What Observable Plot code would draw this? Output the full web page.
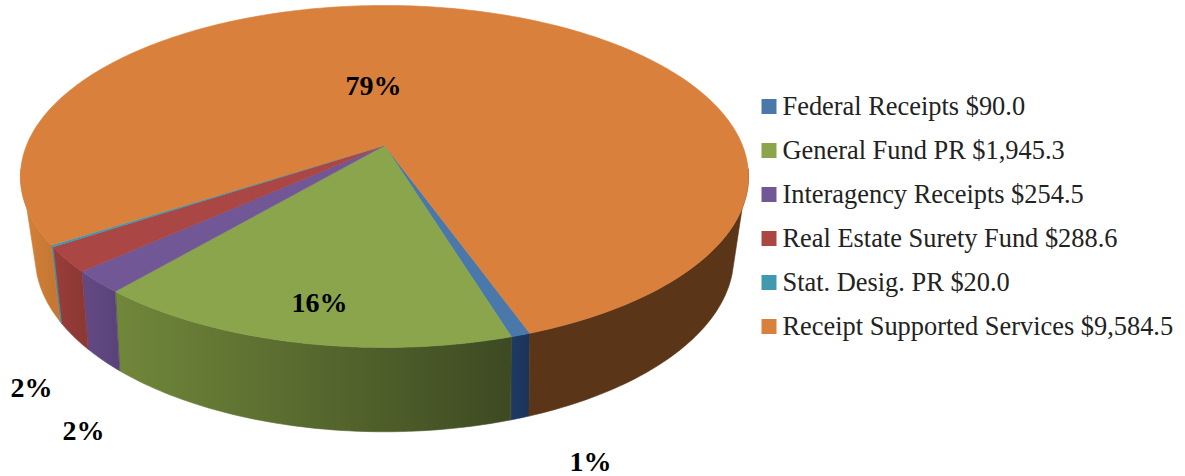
<!DOCTYPE html>
<html>
<head>
<meta charset="utf-8">
<script src="https://cdn.jsdelivr.net/npm/d3@7"></script>
<script src="https://cdn.jsdelivr.net/npm/@observablehq/plot@0.6"></script>
<style>
html,body{margin:0;padding:0;background:#fff}
svg{display:block}
</style>
</head>
<body>
<div id="chart"></div>
<script>
// Data
const categories = ["Federal Receipts","General Fund PR","Interagency Receipts","Real Estate Surety Fund","Stat. Desig. PR","Receipt Supported Services"];
const amounts = [90.0,1945.3,254.5,288.6,20.0,9584.5];
const amountLabels = ["$90.0","$1,945.3","$254.5","$288.6","$20.0","$9,584.5"];
const percentLabels = ["1%","16%","2%","2%","79%"];

// Styles
const topColors = ["#4a78ab","#8aa54b","#725796","#aa4644","#4099af","#d9803c"];
const wallColors = [
  ["#1e3a66","#1c3358"],
  ["#71873a","#3d4a22"],
  ["#644a85","#5a437a"],
  ["#9a3d3a","#8c3835"],
  ["#3d93a6","#3a8a9c"],
  ["#d6813b","#c67832"]
];
const brownWall = "#5a3517";

// Layout
const W = 1185, H = 476;
const cx = 384;
const top3d = {y0:145, sx:358, sy:165.4, k:0.181};
const bot3d = {y0:218, sx:341, sy:167, k:0.217};
const startDeg = 160.3;
const topRange = [98, 262], bottomRange = [108, 252];
const legendY = i => 106 + 44 * i;
const labelPos = [
  {t:0,x:590,y:462},{t:1,x:319,y:303},{t:2,x:31,y:388},{t:3,x:83,y:431},{t:4,x:373,y:86}
];

const rad = Math.PI/180;
const project = (deg, p) => {
  const u = Math.sin(deg*rad), v = Math.cos(deg*rad), w = 1 + p.k*v;
  return {x: cx + p.sx*u/w, y: p.y0 - p.sy*v/w};
};
const arcDegs = (a,b) => {
  const n = Math.max(2, Math.ceil(Math.abs(b-a)));
  return d3.range(n+1).map(i => a + (b-a)*i/n);
};
const clamp = (d,r,off) => Math.min(Math.max(d,r[0]+off),r[1]+off);

const pie = d3.pie().sort(null).startAngle(startDeg*rad).endAngle(startDeg*rad + 2*Math.PI)(amounts);
const slices = pie.map((d,i) => ({i, a:d.startAngle/rad, b:d.endAngle/rad}));

const facePts = s => [{x:cx,y:top3d.y0}, ...arcDegs(s.a,s.b).map(d => project(d,top3d))];

const walls = [];
slices.forEach(s => {
  [0,360].forEach(off => {
    const a = Math.max(s.a, topRange[0]+off), b = Math.min(s.b, topRange[1]+off);
    if (b > a) walls.push({i:s.i, a, b, off});
  });
});
const wallPts = w => {
  const ba = clamp(w.a,bottomRange,w.off), bb = clamp(w.b,bottomRange,w.off);
  return [...arcDegs(w.a,w.b).map(d => project(d,top3d)), ...arcDegs(bb,ba).map(d => project(d,bot3d))];
};

// gradients run across each wall's on-screen width
const defs = () => {
  const ns = "http://www.w3.org/2000/svg";
  const el = document.createElementNS(ns,"defs");
  walls.forEach((w,j) => {
    const p0 = project(w.a,top3d).x, p1 = project(w.b,top3d).x;
    const g = document.createElementNS(ns,"linearGradient");
    g.setAttribute("id","wall"+j);
    g.setAttribute("gradientUnits","userSpaceOnUse");
    g.setAttribute("x1",Math.min(p0,p1)); g.setAttribute("x2",Math.max(p0,p1));
    g.setAttribute("y1",0); g.setAttribute("y2",0);
    wallColors[w.i].forEach((c,k) => {
      const st = document.createElementNS(ns,"stop");
      st.setAttribute("offset",k); st.setAttribute("stop-color",c);
      g.appendChild(st);
    });
    el.appendChild(g);
  });
  return el;
};

const marks = [defs];
walls.forEach((w,j) => {
  const fill = (w.off===360) ? brownWall : `url(#wall${j})`;
  marks.push(Plot.line(wallPts(w), {x:"x",y:"y",fill,stroke:fill,strokeWidth:0.6,curve:"linear-closed"}));
});
slices.forEach(s => {
  marks.push(Plot.line(facePts(s), {x:"x",y:"y",fill:topColors[s.i],stroke:topColors[s.i],strokeWidth:0.6,curve:"linear-closed"}));
});

const legend = categories.map((c,i) => ({label:`${c} ${amountLabels[i]}`, color:topColors[i], y:legendY(i)}));
marks.push(Plot.dot(legend,{x:()=>768.5,y:"y",symbol:"square",r:8.46,fill:"color",stroke:null}));
marks.push(Plot.text(legend,{x:()=>782,y:"y",text:"label",textAnchor:"start",fontFamily:"'Liberation Serif',serif",fontSize:26.4,fill:"#222"}));
marks.push(Plot.text(labelPos,{x:"x",y:"y",text:d=>percentLabels[d.t],fontFamily:"'Liberation Serif',serif",fontWeight:"bold",fontSize:28,fill:"#000"}));

const chart = Plot.plot({
  width:W,height:H,margin:0,
  x:{domain:[0,W],range:[0,W],axis:null},
  y:{domain:[0,H],range:[0,H],axis:null},
  color:{type:"identity"},
  style:{background:"#fff"},
  marks
});
document.getElementById("chart").appendChild(chart);
</script>
</body>
</html>
